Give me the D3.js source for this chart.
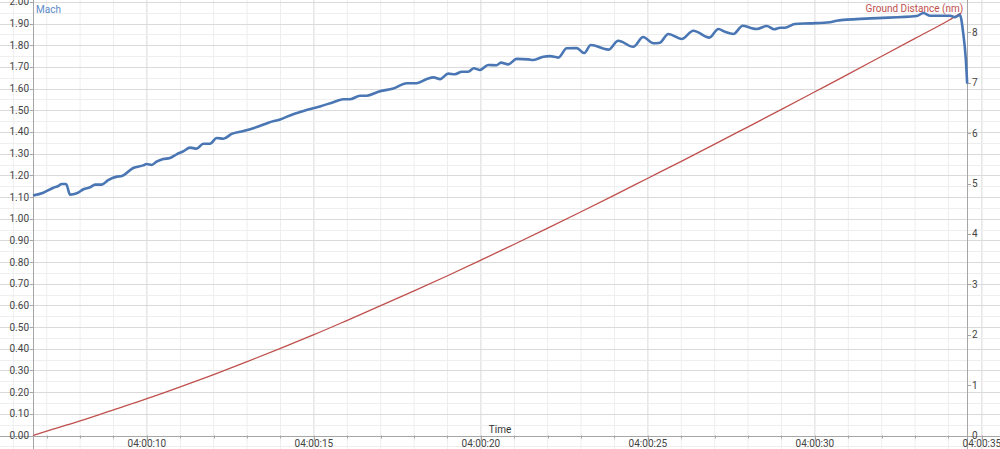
<!DOCTYPE html>
<html>
<head>
<meta charset="utf-8">
<script src="https://cdn.jsdelivr.net/npm/d3@7"></script>
<style>
  body { margin: 0; background: #fff; }
  svg { display: block; font-family: "Segoe UI", Roboto, "Noto Sans", sans-serif; }
</style>
</head>
<body>
<div id="chart"></div>
<script>
var width = 1000
var height = 449

// seconds after 04:00:00 and Mach
var machTime = [6.59, 6.90, 7.20, 7.35, 7.45, 7.58, 7.70, 7.90, 8.10, 8.30, 8.45, 8.65, 8.84, 9.10, 9.25, 9.59, 9.89, 9.99,
    10.14, 10.29, 10.49, 10.69, 10.89, 11.09, 11.29, 11.49, 11.69, 11.89, 12.09, 12.29, 12.54, 12.89, 13.29, 13.64, 13.99,
    14.38, 14.78, 15.18, 15.58, 15.88, 16.08, 16.38, 16.58, 16.93, 17.38, 17.78, 18.08, 18.38, 18.58, 18.78, 19.02, 19.22,
    19.43, 19.62, 19.79, 19.97, 20.22, 20.47, 20.60, 20.82, 21.07, 21.42, 21.57, 21.87, 22.07, 22.32, 22.57, 22.87, 23.09,
    23.29, 23.82, 24.11, 24.56, 24.86, 25.16, 25.36, 25.61, 26.01, 26.36, 26.84, 27.11, 27.31, 27.56, 27.84, 28.06, 28.26,
    28.56, 28.78, 28.96, 29.10, 29.40, 29.85, 30.45, 30.65, 31.65, 33.05, 33.25, 33.45, 34.05, 34.20, 34.34, 34.44, 34.52, 34.56]
var machValue = [1.107, 1.120, 1.143, 1.151, 1.160, 1.160, 1.111, 1.117, 1.136, 1.145, 1.157, 1.157, 1.178, 1.194, 1.197, 1.234, 1.246, 1.252,
    1.248, 1.263, 1.275, 1.280, 1.297, 1.311, 1.328, 1.323, 1.346, 1.346, 1.372, 1.369, 1.391, 1.404, 1.423, 1.443, 1.458,
    1.482, 1.501, 1.518, 1.537, 1.551, 1.551, 1.567, 1.567, 1.586, 1.601, 1.625, 1.625, 1.644, 1.652, 1.644, 1.669, 1.666,
    1.678, 1.678, 1.694, 1.686, 1.709, 1.708, 1.720, 1.712, 1.737, 1.735, 1.732, 1.747, 1.750, 1.743, 1.786, 1.787, 1.764,
    1.801, 1.780, 1.821, 1.793, 1.838, 1.809, 1.812, 1.852, 1.829, 1.867, 1.835, 1.875, 1.862, 1.852, 1.890, 1.881, 1.875,
    1.889, 1.874, 1.881, 1.881, 1.898, 1.901, 1.906, 1.913, 1.924, 1.935, 1.949, 1.936, 1.936, 1.930, 1.940, 1.857, 1.732, 1.623]

// ground distance (nm)
var distTime = [6.59, 7, 8, 9, 10, 11, 12, 13, 14, 15, 16, 17, 18, 19, 20, 21, 22, 23, 24, 25, 26, 27, 28, 29, 30, 31, 32, 33, 34, 34.37]
var distValue = [0, 0.085, 0.29, 0.51, 0.73, 0.965, 1.21, 1.465, 1.73, 2.0, 2.285, 2.575, 2.87, 3.17, 3.48, 3.795, 4.115, 4.44,
    4.77, 5.105, 5.44, 5.78, 6.125, 6.47, 6.82, 7.17, 7.525, 7.88, 8.235, 8.38]

var machTicks = d3.range(0, 2.001, 0.1)
var distTicks = [0, 1, 2, 3, 4, 5, 6, 7, 8]
var timeTicks = [10, 15, 20, 25, 30, 35]

var x = d3.scaleLinear().domain([5.602, 35.542]).range([0, width])
var y = d3.scaleLinear().domain([0, 2]).range([435.5, 1.9])
var y2 = d3.scaleLinear().domain([0, 8]).range([435.5, 32.3])

var x0 = x(machTime[0])
var x1 = x(machTime[machTime.length - 1])
var yBase = y(0)

var svg = d3.select("#chart")
    .append("svg")
    .attr("width", width)
    .attr("height", height)

// grid: minor then major, across the whole picture
var grid = svg.append("g")
grid.selectAll(".vminor")
    .data(d3.range(6, 36, 1))
    .enter().append("line")
    .attr("x1", d => x(d)).attr("x2", d => x(d))
    .attr("y1", 0).attr("y2", height)
    .style("stroke", d => d % 5 == 0 ? "#dadada" : "#eeeeee")
    .style("stroke-width", 1)
grid.selectAll(".hminor")
    .data(d3.range(-1, 41, 1).map(d => d * 0.05))
    .enter().append("line")
    .attr("x1", 0).attr("x2", width)
    .attr("y1", d => Math.round(y(d)) + 0.5).attr("y2", d => Math.round(y(d)) + 0.5)
    .style("stroke", (d, i) => (i - 1) % 2 == 0 ? "#dadada" : "#eeeeee")
    .style("stroke-width", 1)

// axes
var axisColor = "#a6a6a6"
svg.append("line")
    .attr("x1", Math.round(x0) + 0.5).attr("x2", Math.round(x0) + 0.5)
    .attr("y1", 0).attr("y2", height)
    .style("stroke", axisColor)
svg.append("line")
    .attr("x1", Math.round(x1) + 0.5).attr("x2", Math.round(x1) + 0.5)
    .attr("y1", 0).attr("y2", height)
    .style("stroke", axisColor)
svg.append("line")
    .attr("x1", 0).attr("x2", width)
    .attr("y1", Math.round(yBase) + 0.5).attr("y2", Math.round(yBase) + 0.5)
    .style("stroke", axisColor)

var labelColor = "#444"

// left Mach labels
svg.append("g").selectAll("text")
    .data(machTicks)
    .enter().append("text")
    .attr("x", Math.round(x0) - 4)
    .attr("y", d => y(d))
    .attr("dy", "0.35em")
    .style("text-anchor", "end")
    .style("font-size", "10px")
    .style("fill", labelColor)
    .text(d => d.toFixed(2))
svg.append("g").selectAll("line")
    .data(machTicks)
    .enter().append("line")
    .attr("x1", Math.round(x0) - 3).attr("x2", Math.round(x0))
    .attr("y1", d => Math.round(y(d)) + 0.5).attr("y2", d => Math.round(y(d)) + 0.5)
    .style("stroke", axisColor)

// right distance labels
svg.append("g").selectAll("text")
    .data(distTicks)
    .enter().append("text")
    .attr("x", Math.round(x1) + 5)
    .attr("y", d => y2(d))
    .attr("dy", "0.35em")
    .style("font-size", "10px")
    .style("fill", labelColor)
    .text(d => d)
svg.append("g").selectAll("line")
    .data(distTicks)
    .enter().append("line")
    .attr("x1", Math.round(x1) + 1).attr("x2", Math.round(x1) + 4)
    .attr("y1", d => Math.round(y2(d)) + 0.5).attr("y2", d => Math.round(y2(d)) + 0.5)
    .style("stroke", axisColor)

// time ticks and labels
svg.append("g").selectAll("line")
    .data(d3.range(6, 36, 1))
    .enter().append("line")
    .attr("x1", d => Math.round(x(d)) + 0.5).attr("x2", d => Math.round(x(d)) + 0.5)
    .attr("y1", yBase).attr("y2", d => d % 5 == 0 ? yBase + 5 : yBase + 3)
    .style("stroke", axisColor)
svg.append("g").selectAll("text")
    .data(timeTicks)
    .enter().append("text")
    .attr("x", d => x(d))
    .attr("y", yBase + 8)
    .attr("dy", "0.35em")
    .style("text-anchor", "middle")
    .style("font-size", "10px")
    .style("fill", labelColor)
    .text(d => "04:00:" + d3.format("02d")(d))

// series
var distLine = d3.line()
    .x(d => x(d[0]))
    .y(d => y2(d[1]))
    .curve(d3.curveMonotoneX)
svg.append("path")
    .datum(d3.zip(distTime, distValue))
    .attr("d", distLine)
    .style("fill", "none")
    .style("stroke", "#c0504d")
    .style("stroke-width", 1.3)

var machLine = d3.line()
    .x(d => x(d[0]))
    .y(d => y(d[1]))
    .curve(d3.curveMonotoneX)
svg.append("path")
    .datum(d3.zip(machTime, machValue))
    .attr("d", machLine)
    .style("fill", "none")
    .style("stroke", "#4a77b4")
    .style("stroke-width", 2.6)
    .style("stroke-linejoin", "round")

// titles
svg.append("text")
    .attr("x", x0 + 3).attr("y", 9)
    .attr("dy", "0.35em")
    .style("font-size", "10px")
    .style("fill", "#5b8ac6")
    .text("Mach")
svg.append("text")
    .attr("x", x1 - 4).attr("y", 8)
    .attr("dy", "0.35em")
    .style("text-anchor", "end")
    .style("font-size", "10px")
    .style("fill", "#c0504d")
    .text("Ground Distance (nm)")
svg.append("text")
    .attr("x", 500).attr("y", 429)
    .attr("dy", "0.35em")
    .style("text-anchor", "middle")
    .style("font-size", "10px")
    .style("fill", "#333")
    .text("Time")
</script>
</body>
</html>
